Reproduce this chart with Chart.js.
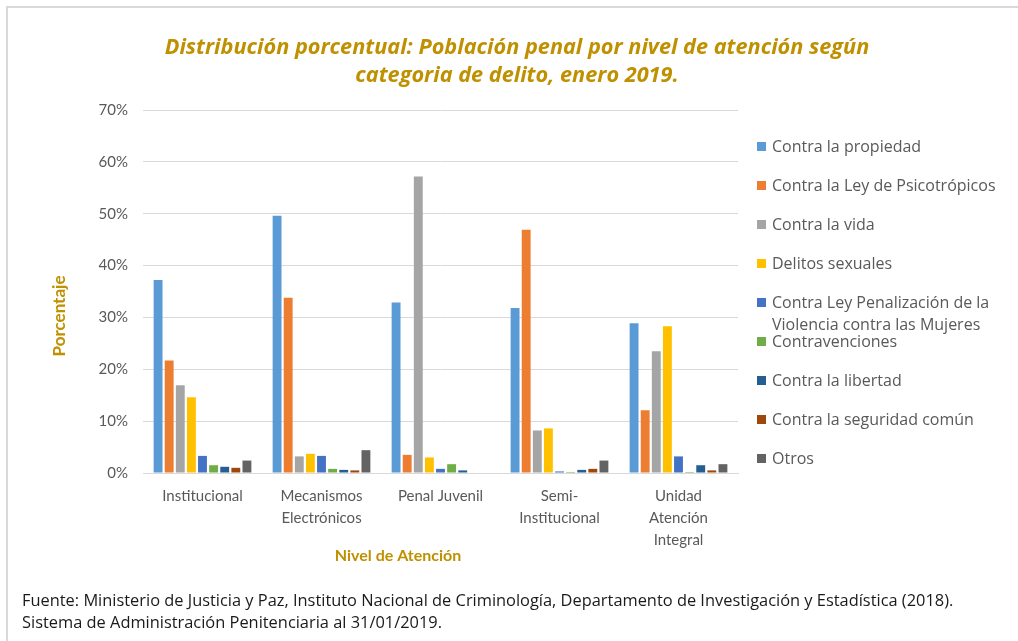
<!DOCTYPE html>
<html lang="es">
<head>
<meta charset="utf-8">
<title>Población penal por nivel de atención</title>
<script src="https://cdn.jsdelivr.net/npm/chart.js@4.4.1/dist/chart.umd.min.js"></script>
<style>
  html, body { margin: 0; padding: 0; background: #fff; }
  #wrap { position: relative; width: 1018px; height: 641px; overflow: hidden; }
  #frame { position: absolute; left: 6px; top: 6px; width: 1030px; height: 660px;
           border-top: 2px solid #d9d9d9; border-left: 2px solid #d9d9d9; }
  #chart { position: absolute; left: 0; top: 0; }
  #fuente { position: absolute; left: 22px; top: 589px; font: 16.4px "Open Sans", sans-serif;
            color: #1a1a1a; line-height: 22px; white-space: nowrap; }
</style>
</head>
<body>
<div id="wrap">
  <div id="frame"></div>
  <canvas id="chart" width="1018" height="641"></canvas>
  <div id="fuente">
    Fuente: Ministerio de Justicia y Paz, Instituto Nacional de Criminología, Departamento de Investigación y Estadística (2018).<br>
    Sistema de Administración Penitenciaria al 31/01/2019.
  </div>
</div>
<script>
// Categories (x axis)
const niveles = [
    ['Institucional'],
    ['Mecanismos', 'Electrónicos'],
    ['Penal Juvenil'],
    ['Semi-', 'Institucional'],
    ['Unidad', 'Atención', 'Integral']
];

// Crime categories (series)
const delitos = [
    'Contra la propiedad',
    'Contra la Ley de Psicotrópicos',
    'Contra la vida',
    'Delitos sexuales',
    'Contra Ley Penalización de la\nViolencia contra las Mujeres',
    'Contravenciones',
    'Contra la libertad',
    'Contra la seguridad común',
    'Otros'
];

const colores = ['#5B9BD5', '#ED7D31', '#A5A5A5', '#FFC000', '#4472C4', '#70AD47', '#255E91', '#9E480E', '#636363'];

// Percent values per series, one per category
const propiedad       = [37.2, 49.6, 32.9, 31.8, 28.9];
const psicotropicos   = [21.7, 33.8, 3.5, 46.9, 12.1];
const vida            = [16.9, 3.2, 57.2, 8.2, 23.5];
const sexuales        = [14.6, 3.7, 3.0, 8.6, 28.3];
const violencia       = [3.3, 3.3, 0.8, 0.3, 3.2];
const contravenciones = [1.5, 0.8, 1.7, 0.2, 0.2];
const libertad        = [1.2, 0.6, 0.5, 0.6, 1.5];
const seguridad       = [1.0, 0.5, 0.0, 0.8, 0.5];
const otros           = [2.4, 4.4, 0.0, 2.4, 1.7];

const series = [propiedad, psicotropicos, vida, sexuales, violencia, contravenciones, libertad, seguridad, otros];

// Y tick labels
const ticksY = [0, 10, 20, 30, 40, 50, 60, 70];

const titulo = ['Distribución porcentual: Población penal por nivel de atención según', 'categoria de delito, enero 2019.'];
const tituloY = 'Porcentaje';
const tituloX = 'Nivel de Atención';

const FONT = 'Lato, "Open Sans", sans-serif';
const FONT_WIDE = '"Open Sans", Lato, sans-serif';
const GOLD = '#BF9000';
const GRAY = '#595959';

// Draws title, axis titles and the legend
const extras = {
    id: 'extras',
    afterDraw(chart) {
        const ctx = chart.ctx;
        ctx.save();
        ctx.textBaseline = 'middle';

        // Title
        ctx.fillStyle = GOLD;
        ctx.textAlign = 'center';
        ctx.font = 'italic bold 21.7px ' + FONT_WIDE;
        titulo.forEach((line, i) => ctx.fillText(line, 517, 48 + i * 28));

        // Axis titles
        ctx.font = 'bold 16px ' + FONT;
        ctx.fillText(tituloX, 398, 556);
        ctx.save();
        ctx.translate(60, 316);
        ctx.rotate(-Math.PI / 2);
        ctx.font = 'bold 17px ' + FONT;
        ctx.fillText(tituloY, 0, 0);
        ctx.restore();

        // Legend
        ctx.textAlign = 'left';
        ctx.font = '16px ' + FONT_WIDE;
        delitos.forEach((name, i) => {
            const y = 147 + i * 39;
            ctx.fillStyle = colores[i];
            ctx.fillRect(757, y - 5, 9, 9);
            ctx.fillStyle = GRAY;
            name.split('\n').forEach((line, j) => ctx.fillText(line, 772, y + j * 22));
        });
        ctx.restore();
    }
};

new Chart(document.getElementById('chart'), {
    type: 'bar',
    data: {
        labels: niveles,
        datasets: delitos.map((name, i) => ({
            label: name.replace('\n', ' '),
            data: series[i],
            backgroundColor: colores[i],
            borderWidth: 0,
            categoryPercentage: 0.84,
            barPercentage: 0.8
        }))
    },
    options: {
        responsive: false,
        animation: false,
        layout: {
            padding: { top: 110, right: 280, bottom: 76, left: 0 }
        },
        plugins: {
            legend: { display: false },
            title: { display: false },
            tooltip: { enabled: false }
        },
        scales: {
            x: {
                grid: { display: false },
                border: { display: true, color: '#D9D9D9', width: 1 },
                ticks: {
                    color: GRAY,
                    font: { family: FONT, size: 15, lineHeight: 1.47 },
                    padding: 4,
                    maxRotation: 0,
                    autoSkip: false
                },
                afterFit: function(scale) { scale.height = 92; }
            },
            y: {
                min: ticksY[0],
                max: ticksY[ticksY.length - 1],
                grid: { color: '#D9D9D9', lineWidth: 1, drawTicks: false },
                border: { display: false },
                afterBuildTicks: function(scale) {
                    scale.ticks = ticksY.map(v => ({ value: v }));
                },
                ticks: {
                    color: GRAY,
                    font: { family: FONT, size: 15 },
                    padding: 15,
                    callback: function(value) { return value + '%'; }
                },
                afterFit: function(scale) { scale.width = 143; }
            }
        }
    },
    plugins: [extras]
});
</script>
</body>
</html>
